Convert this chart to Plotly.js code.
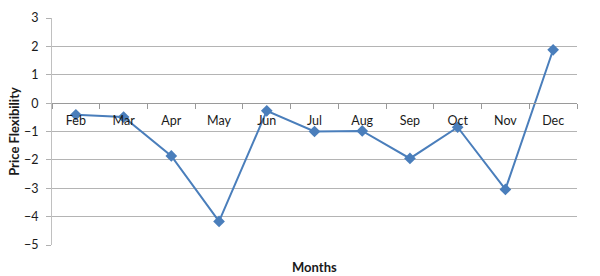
<!DOCTYPE html>
<html><head><meta charset="utf-8">
<script src="https://cdn.plot.ly/plotly-3.0.1.min.js"></script>
<style>html,body{margin:0;padding:0;background:#fff}#c{width:600px;height:276px}</style>
</head><body><div id="c"></div>
<script>
const months = ["Feb","Mar","Apr","May","Jun","Jul","Aug","Sep","Oct","Nov","Dec"];
const flexibility = [-0.41,-0.49,-1.86,-4.17,-0.27,-1.0,-0.98,-1.95,-0.85,-3.04,1.88];
const yTicks = [3,2,1,0,-1,-2,-3,-4,-5];

const fam = "Lato, 'Liberation Sans', sans-serif";
const fnt = {family:fam, size:12.5, color:"#1a1a1a"};
const trace = {
  x: months, y: flexibility, type:"scatter", mode:"lines+markers",
  line:{color:"#4a7ebb", width:2},
  marker:{symbol:"diamond", size:9, color:"#4a7ebb"},
  hoverinfo:"skip"
};
const layout = {
  width:600, height:276,
  margin:{l:52, r:23, t:18, b:31},
  paper_bgcolor:"#fff", plot_bgcolor:"#fff",
  showlegend:false,
  font: fnt,
  xaxis:{
    type:"category", anchor:"free", position:0.625,
    showline:true, linecolor:"#9a9a9a", linewidth:1,
    ticks:"outside", tickson:"boundaries", ticklen:5, tickcolor:"#9a9a9a",
    showgrid:false, zeroline:false, tickfont:fnt, ticklabelstandoff:6,
    range:[-0.5, 10.5]
  },
  yaxis:{
    range:[-5,3], tickvals:yTicks, domain:[0,1],
    showline:true, linecolor:"#c0c0c0", linewidth:1,
    ticks:"outside", ticklen:5, tickcolor:"#b0b0b0",
    showgrid:true, gridcolor:"#b4b4b4", gridwidth:1,
    zeroline:false, tickfont:fnt, ticklabelstandoff:5,
    title:{text:"Price Flexibility", font:{family:fam, size:13, color:"#1a1a1a", weight:"bold"}, standoff:1}
  },
  annotations:[{
    text:"<b>Months</b>", xref:"paper", yref:"paper", x:0.5, y:0, yshift:-22,
    showarrow:false, font:{family:fam, size:13, color:"#1a1a1a"}, yanchor:"middle"
  }]
};
Plotly.newPlot("c",[trace],layout,{staticPlot:true, displayModeBar:false});
</script></body></html>
